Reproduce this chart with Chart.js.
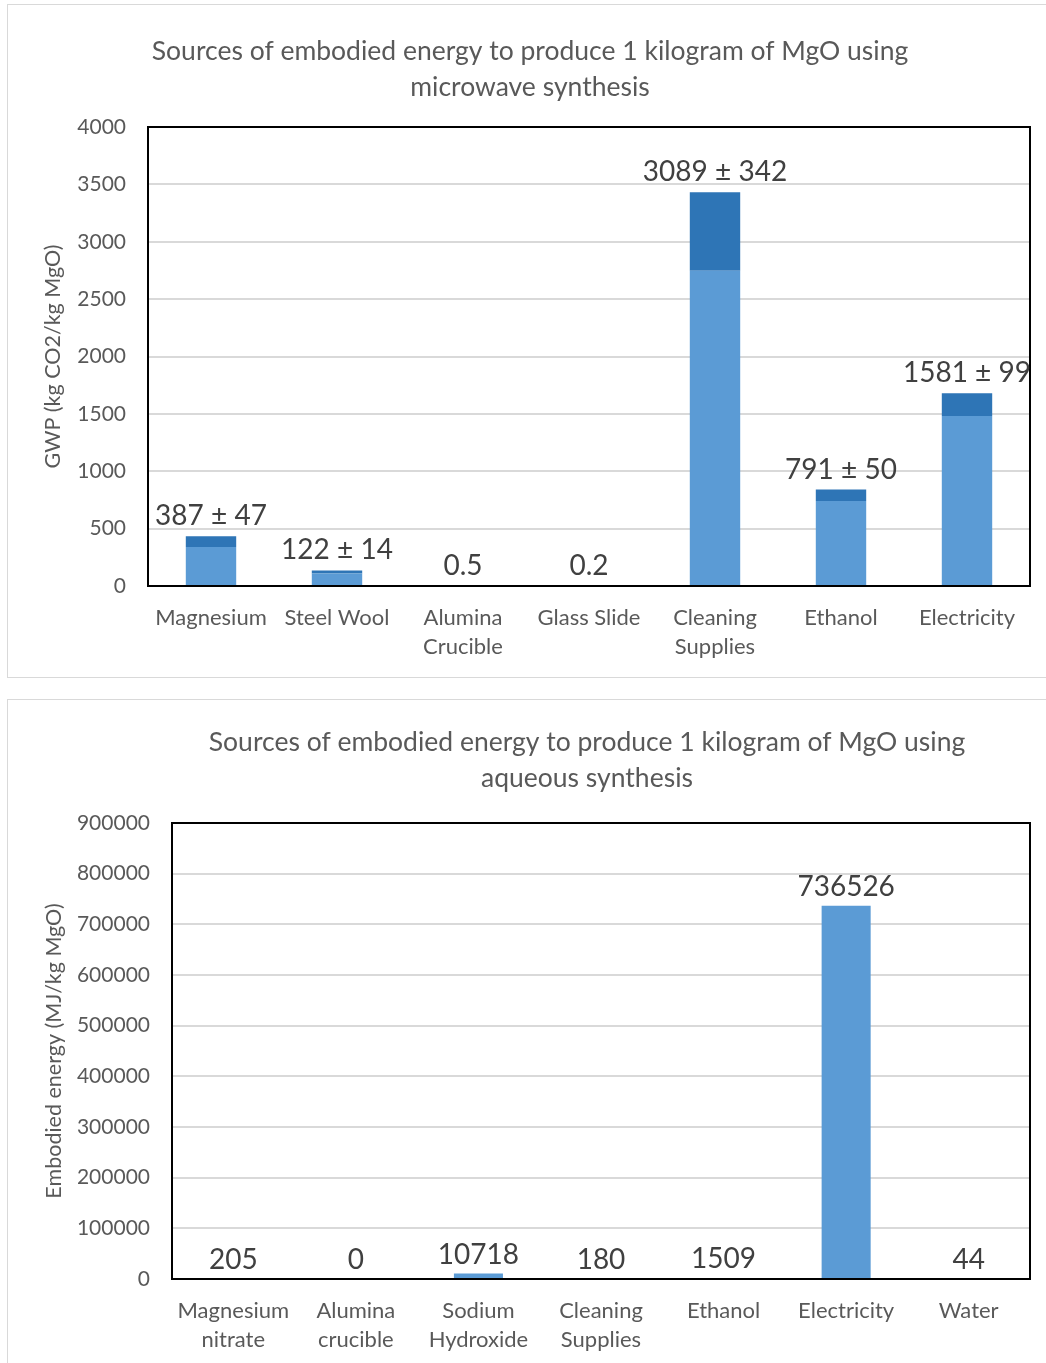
<!DOCTYPE html>
<html>
<head>
<meta charset="utf-8">
<script src="https://cdn.jsdelivr.net/npm/chart.js@4"></script>
<style>
  html, body { margin: 0; padding: 0; background: #fff; overflow: hidden; }
  body { width: 1046px; height: 1363px; position: relative; }
  .box { position: absolute; left: 7px; border: 1px solid #d9d9d9; background: #fff; overflow: hidden; }
  #box1 { top: 4px; width: 1050px; height: 672px; }
  #box2 { top: 699px; width: 1050px; height: 680px; }
  canvas { display: block; }
</style>
</head>
<body>
<div class="box" id="box1"><canvas id="c1" width="1050" height="672"></canvas></div>
<div class="box" id="box2"><canvas id="c2" width="1050" height="680"></canvas></div>
<script>
// ---------- data: chart 1 (microwave synthesis, GWP) ----------
const categories1 = ['Magnesium', 'Steel Wool', ['Alumina', 'Crucible'], 'Glass Slide', ['Cleaning', 'Supplies'], 'Ethanol', 'Electricity'];
const values1 = [387, 122, 0.5, 0.2, 3089, 791, 1581];
const errors1 = [47, 14, 0, 0, 342, 50, 99];
const title1 = ['Sources of embodied energy to produce 1 kilogram of MgO using', 'microwave synthesis'];
const yTitle1 = 'GWP (kg CO2/kg MgO)';

// ---------- data: chart 2 (aqueous synthesis, embodied energy) ----------
const categories2 = [['Magnesium', 'nitrate'], ['Alumina', 'crucible'], ['Sodium', 'Hydroxide'], ['Cleaning', 'Supplies'], 'Ethanol', 'Electricity', 'Water'];
const values2 = [205, 0, 10718, 180, 1509, 736526, 44];
const title2 = ['Sources of embodied energy to produce 1 kilogram of MgO using', 'aqueous synthesis'];
const yTitle2 = 'Embodied energy (MJ/kg MgO)';

// derived stacks for chart 1 (lower part = value - error, upper part = 2*error)
const lower1 = values1.map((v, i) => v - errors1[i]);
const upper1 = errors1.map(e => 2 * e);
const labels1 = values1.map((v, i) => errors1[i] ? `${v} ± ${errors1[i]}` : `${v}`);
const tops1 = values1.map((v, i) => v + errors1[i]);
const labels2 = values2.map(v => `${v}`);

const FONT = 'Lato, "Open Sans", sans-serif';
const GREY = '#595959';
const LIGHT = '#5b9bd5';
const DARK = '#2e75b6';

function labelPlugin(texts, tops, offset) {
  return {
    id: 'valueLabels',
    afterDatasetsDraw(chart) {
      const ctx = chart.ctx;
      const meta = chart.getDatasetMeta(0);
      const ys = chart.scales.y;
      ctx.save();
      ctx.font = '28px ' + FONT;
      ctx.fillStyle = '#404040';
      ctx.textAlign = 'center';
      ctx.textBaseline = 'middle';
      meta.data.forEach((bar, i) => {
        const y = ys.getPixelForValue(tops[i]);
        ctx.fillText(texts[i], bar.x, y - offset);
      });
      ctx.restore();
    }
  };
}

function titlePlugin(lines, cx, firstY, lineGap) {
  return {
    id: 'chartTitle',
    afterDraw(chart) {
      const ctx = chart.ctx;
      ctx.save();
      ctx.font = '26.5px ' + FONT;
      ctx.fillStyle = GREY;
      ctx.textAlign = 'center';
      ctx.textBaseline = 'middle';
      lines.forEach((t, i) => ctx.fillText(t, cx, firstY + i * lineGap));
      ctx.restore();
    }
  };
}

const framePlugin = {
  id: 'frame',
  afterDatasetsDraw(chart) {
    const a = chart.chartArea;
    const ctx = chart.ctx;
    ctx.save();
    ctx.strokeStyle = '#000';
    ctx.lineWidth = 2;
    ctx.strokeRect(a.left, a.top, a.right - a.left, a.bottom - a.top);
    ctx.restore();
  }
};

function baseOptions(cfg) {
  return {
    responsive: false,
    animation: false,
    layout: { padding: { left: 0, right: cfg.padRight, top: cfg.padTop, bottom: 0 } },
    plugins: {
      legend: { display: false },
      tooltip: { enabled: false },
      title: { display: false }
    },
    scales: {
      x: {
        stacked: true,
        grid: { display: false, drawTicks: false },
        border: { display: false },
        ticks: { color: GREY, padding: 17, maxRotation: 0, autoSkip: false, font: { family: FONT, size: 22, lineHeight: 1.32 } },
        afterFit(s) { s.height = cfg.xHeight; }
      },
      y: {
        stacked: true,
        min: 0, max: cfg.max,
        ticks: { stepSize: cfg.step, color: GREY, padding: 22, font: { family: FONT, size: 21 }, callback: v => String(v) },
        grid: { color: '#d9d9d9', lineWidth: 2, drawTicks: false },
        border: { display: false },
        title: { display: true, text: cfg.yTitle, color: GREY, font: { family: FONT, size: 21.5 }, padding: { top: cfg.yTitlePad, bottom: 0 } },
        afterFit(s) { s.width = cfg.yWidth; }
      }
    }
  };
}

new Chart(document.getElementById('c1'), {
  type: 'bar',
  data: {
    labels: categories1,
    datasets: [
      { data: lower1, backgroundColor: LIGHT, barPercentage: 0.4, categoryPercentage: 1 },
      { data: upper1, backgroundColor: DARK, barPercentage: 0.4, categoryPercentage: 1 }
    ]
  },
  options: baseOptions({ yTitle: yTitle1, max: 4000, step: 500, padRight: 28, padTop: 122, xHeight: 91, yWidth: 140, yTitlePad: 32 }),
  plugins: [framePlugin, labelPlugin(labels1, tops1, 20), titlePlugin(title1, 522, 46, 36)]
});

new Chart(document.getElementById('c2'), {
  type: 'bar',
  data: {
    labels: categories2,
    datasets: [
      { data: values2, backgroundColor: LIGHT, barPercentage: 0.4, categoryPercentage: 1 }
    ]
  },
  options: baseOptions({ yTitle: yTitle2, max: 900000, step: 100000, padRight: 28, padTop: 123, xHeight: 101, yWidth: 164, yTitlePad: 33 }),
  plugins: [framePlugin, labelPlugin(labels2, values2, 19), titlePlugin(title2, 579, 42, 36)]
});
</script>
</body>
</html>
